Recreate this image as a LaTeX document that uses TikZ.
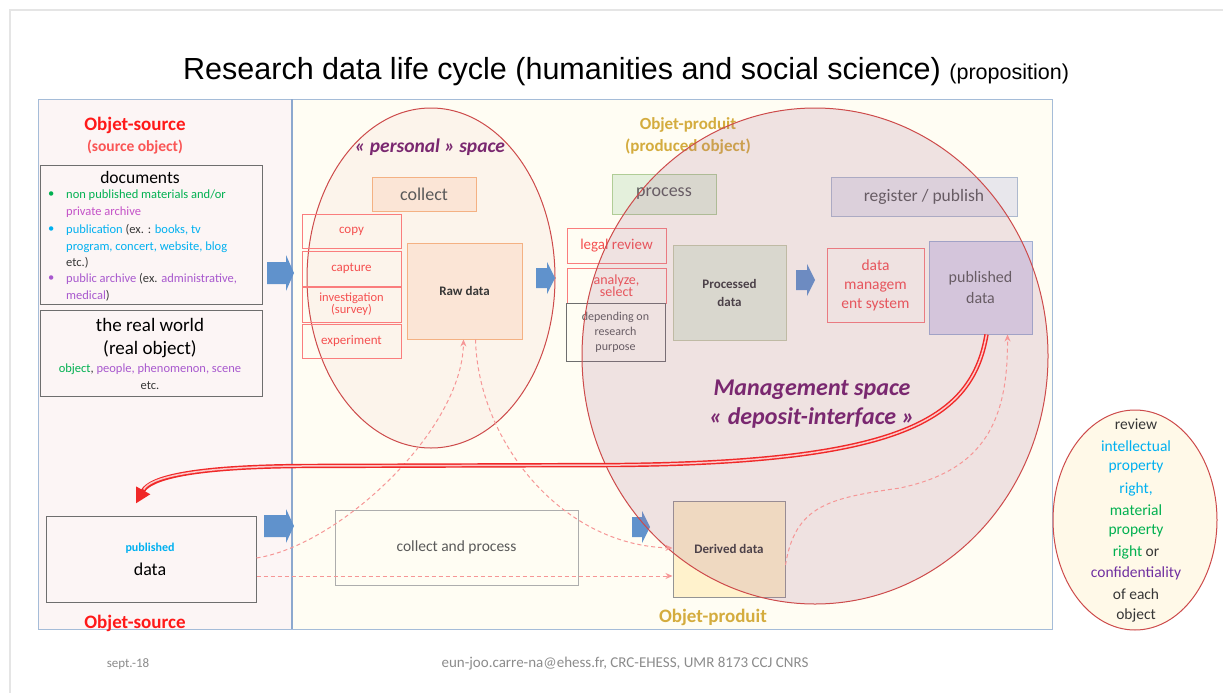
\documentclass[tikz,border=0pt]{standalone}
\usepackage{fontspec}
\setmainfont{Carlito}
\newfontfamily\arialfont{Liberation Sans}
\usetikzlibrary{arrows.meta,calc}
\definecolor{panelL}{RGB}{252,245,245}
\definecolor{panelR}{RGB}{255,253,243}
\definecolor{frameblue}{RGB}{165,188,216}
\definecolor{frameblue2}{RGB}{140,168,206}
\definecolor{arrowblue}{RGB}{96,146,204}
\definecolor{ored}{RGB}{255,25,25}
\definecolor{ored2}{RGB}{250,85,85}
\definecolor{boxred}{RGB}{250,125,125}
\definecolor{txtred}{RGB}{245,80,80}
\definecolor{ogreen}{RGB}{0,176,80}
\definecolor{oblue}{RGB}{0,176,240}
\definecolor{omag}{RGB}{196,82,200}
\definecolor{opurple}{RGB}{168,88,206}
\definecolor{cpurple}{RGB}{112,48,160}
\definecolor{plum}{RGB}{122,40,112}
\definecolor{gold}{RGB}{212,172,62}
\definecolor{peach}{RGB}{251,229,214}
\definecolor{peachline}{RGB}{244,177,131}
\definecolor{lgreen}{RGB}{228,240,220}
\definecolor{lgreenline}{RGB}{176,205,150}
\definecolor{olive}{RGB}{196,204,168}
\definecolor{greytxt}{RGB}{89,89,89}
\definecolor{darktxt}{RGB}{55,55,55}
\definecolor{boxgrey}{RGB}{110,110,110}
\definecolor{regfill}{RGB}{232,231,236}
\definecolor{regline}{RGB}{173,185,206}
\definecolor{pubfill}{RGB}{222,218,236}
\definecolor{publine}{RGB}{160,175,210}
\definecolor{derfill}{RGB}{255,242,204}
\definecolor{ellred}{RGB}{205,75,75}
\definecolor{mgfill}{RGB}{170,110,150}
\definecolor{persfill}{RGB}{200,90,100}
\definecolor{revfill}{RGB}{255,249,232}
\definecolor{dashred}{RGB}{246,150,150}
\definecolor{dblred}{RGB}{240,40,40}
\definecolor{dblin}{RGB}{252,200,200}
\definecolor{foot}{RGB}{140,140,140}
\newcommand\fsz[2]{\fontsize{#1}{#2}\selectfont}
\newcommand\blockarr[5]{\fill[arrowblue] (#1,#3-#4) -- (#2-8,#3-#4) -- (#2-8,#3-#5) -- (#2,#3) -- (#2-8,#3+#5) -- (#2-8,#3+#4) -- (#1,#3+#4) -- cycle;}
\tikzset{
  bx/.style={rectangle, inner sep=1pt, align=center},
  redbox/.style={bx, draw=boxred, line width=1pt, text=txtred},
  dasharrow/.style={draw=dashred, line width=1pt, dash pattern=on 4pt off 3pt, -{Stealth[length=7pt,width=6pt]}},
}
\newcommand\dblpath{($(pub.south)+(6,0)$) .. controls (972,420) and (900,462) .. (620,465) -- (300,466) .. controls (190,467) and (150,478) .. (arrend)}
\begin{document}
\begin{tikzpicture}[x=1pt,y=-1pt]
\useasboundingbox (0,0) rectangle (1223,693);
\fill[white] (0,0) rectangle (1223,693);
\draw[black!10, line width=1.5pt] (10,693) -- (10,10) -- (1223,10);
% panels
\fill[panelL] (38,99) rectangle (292,629);
\fill[panelR] (292,99) rectangle (1052,629);
\draw[frameblue, line width=1pt] (38,99) rectangle (1052,629);
\draw[frameblue2, line width=2.2pt] (292,99) -- (292,629);
% title
\node[anchor=base west, inner sep=0, font=\arialfont\fsz{30.5}{36}] (title) at (183,80) {Research data life cycle (humanities and social science) {\fsz{21.5}{25}(proposition)}};
% left panel
\node[font=\bfseries\fsz{19}{22}, text=ored] (os1) at (135,125) {Objet-source};
\node[font=\bfseries\fsz{15.5}{18}, text=ored2] (os2) at (135,147) {(source object)};
\node[draw=boxgrey, line width=1pt, minimum width=222pt, minimum height=139pt] (docs) at (151,235) {};
\node[font=\fsz{17.5}{20}, text=black] (doct) at (140,177) {documents};
\begin{scope}[every node/.style={anchor=west, inner sep=0, font=\fsz{12.5}{15}, text=darktxt}]
\node (b1) at (48,195) {\color{ogreen}\textbullet};
\node (l1) at (66,195) {\color{ogreen}non published materials and/or};
\node (l2) at (66,212) {\color{omag}private archive};
\node (b2) at (48,230) {\color{oblue}\textbullet};
\node (l3) at (66,230) {{\color{oblue}publication} (ex. : {\color{oblue}books, tv}};
\node (l4) at (66,247) {\color{oblue}program, concert, website, blog};
\node (l5) at (66,263) {etc.)};
\node (b3) at (48,279) {\color{opurple}\textbullet};
\node (l6) at (66,279) {{\color{opurple}public archive} (ex. {\color{opurple}administrative,}};
\node (l7) at (66,296) {{\color{opurple}medical})};
\end{scope}
\node[draw=boxgrey, line width=1pt, minimum width=222pt, minimum height=86pt] (real) at (151,353) {};
\node[font=\fsz{19}{22}, text=black] (rw1) at (150,325) {the real world};
\node[font=\fsz{19}{22}, text=black] (rw2) at (150,349) {(real object)};
\node[font=\fsz{12.5}{15}, text=darktxt] (rw3) at (150,369) {{\color{ogreen}object}, {\color{opurple}people, phenomenon, scene}};
\node[font=\fsz{12.5}{15}, text=darktxt] (rw4) at (150,386) {etc.};
\blockarr{267}{294}{273}{11}{18}
\blockarr{264}{294}{526}{11}{17}
% personal space
\draw[ellred, line width=1pt, fill=persfill, fill opacity=0.05] (431,278) ellipse [x radius=124pt, y radius=170pt];
\node[font=\bfseries\itshape\fsz{19.5}{22}, text=plum] (pers) at (430,147) {« personal » space};
\node[bx, fill=peach, draw=peachline, line width=1pt, minimum width=104pt, minimum height=34pt, font=\fsz{18}{22}, text=greytxt] (collect) at (424,194) {collect};
\node[redbox, minimum width=99pt, minimum height=34pt, font=\fsz{13}{15}] (copy) at (351.5,231) {copy};
\node[redbox, minimum width=99pt, minimum height=35pt, font=\fsz{13}{15}] (capture) at (351.5,268.5) {capture};
\node[redbox, minimum width=99pt, minimum height=35pt, font=\fsz{12.5}{12}] (invest) at (351.5,304.5) {investigation\\(survey)};
\node[redbox, minimum width=99pt, minimum height=34pt, font=\fsz{13}{15}] (exper) at (351.5,341) {experiment};
\node[bx, fill=peach, draw=peachline, line width=1pt, minimum width=115pt, minimum height=96pt, font=\bfseries\fsz{13}{15}, text=darktxt] (raw) at (464.5,291) {Raw data};
\blockarr{536}{555}{278}{10}{16}
% process
\node[font=\bfseries\fsz{17}{18}, text=gold] (op1) at (688,125) {Objet-produit};
\node[font=\bfseries\fsz{17}{18}, text=gold] (op2) at (688,147) {(produced object)};
\node[bx, fill=lgreen, draw=lgreenline, line width=1pt, minimum width=104pt, minimum height=40pt, font=\fsz{18}{22}, text=greytxt] (process) at (664,194) {process};
\node[redbox, minimum width=99pt, minimum height=35pt, font=\fsz{15}{17}] (legal) at (616.5,245.5) {legal review};
\node[redbox, minimum width=99pt, minimum height=35pt, font=\fsz{14}{12}] (analyze) at (616.5,285.5) {analyze,\\select};
\node[bx, draw=boxgrey, line width=1pt, minimum width=99pt, minimum height=58pt, font=\fsz{12}{15}, text=greytxt] (depend) at (615.5,332) {depending on\\research\\purpose};
\node[bx, fill=lgreen, draw=olive, line width=1pt, minimum width=113pt, minimum height=95pt, font=\bfseries\fsz{13}{18}, text=darktxt] (processed) at (729.5,292.5) {Processed\\data};
\blockarr{796}{815}{280}{10}{16}
% register / publish
\node[bx, fill=regfill, draw=regline, line width=1pt, minimum width=186pt, minimum height=39pt, font=\fsz{17.5}{20}, text=greytxt] (register) at (924,196.5) {register / publish};
\node[redbox, minimum width=97pt, minimum height=74pt, font=\fsz{15.5}{19}] (dms) at (875.5,285) {data\\managem\\ent system};
\node[bx, fill=pubfill, draw=publine, line width=1pt, minimum width=103pt, minimum height=93pt, font=\fsz{16}{21}, text=greytxt] (pub) at (980.5,287.5) {published\\data};
% bottom row
\node[bx, draw=boxgrey, line width=1pt, minimum width=210pt, minimum height=86pt] (pubdata) at (151,559) {};
\node[font=\bfseries\fsz{12}{14}, text=oblue] (pubt1) at (150,548) {published};
\node[font=\fsz{18}{21}, text=black] (pubt2) at (150,569) {data};
\node[font=\bfseries\fsz{19}{22}, text=ored] (os3) at (135,623) {Objet-source};
\node[bx, fill=panelR, draw=black!32, line width=1pt, minimum width=243pt, minimum height=75pt, font=\fsz{15.5}{18}, text=greytxt] (cap) at (456.5,547.5) {collect and process};
\node[bx, fill=derfill, draw=black!42, line width=1pt, minimum width=112pt, minimum height=96pt, font=\bfseries\fsz{13}{15}, text=darktxt] (derived) at (729,549) {Derived data};
\blockarr{632}{650}{527}{10}{16}
\node[font=\bfseries\fsz{19}{22}, text=gold] (op3) at (713,617) {Objet-produit};
% management space
\draw[ellred, line width=1pt, fill=mgfill, fill opacity=0.19] (815,356) ellipse [x radius=233pt, y radius=248pt];
\node[font=\bfseries\itshape\fsz{24}{27}, text=plum] (mg1) at (812,390) {Management space};
\node[font=\bfseries\itshape\fsz{24}{27}, text=plum] (mg2) at (812,418) {« deposit-interface »};
% review ellipse
\draw[ellred, line width=1pt, fill=revfill] (1135,520) ellipse [x radius=82pt, y radius=110pt];
\begin{scope}[every node/.style={font=\fsz{15.5}{18}, inner sep=0, text=darktxt}]
\node (r1) at (1136,424) {review};
\node (r2) at (1136,446) {\color{oblue}intellectual};
\node (r3) at (1136,467) {\color{oblue}property};
\node (r4) at (1136,489) {\color{oblue}right,};
\node (r5) at (1136,510) {\color{ogreen}material};
\node (r6) at (1136,531) {\color{ogreen}property};
\node (r7) at (1136,552) {{\color{ogreen}right} or};
\node (r8) at (1136,573) {\color{cpurple}confidentiality};
\node (r9) at (1136,594) {of each};
\node (r10) at (1136,615) {object};
\end{scope}
% dashed connectors
\draw[dasharrow] ($(pubdata.east)+(0,-1)$) .. controls (340,545) and (462,430) .. ($(raw.south)+(-1,0)$);
\draw[dasharrow] ($(raw.south)+(11,0)$) .. controls (478,440) and (560,545) .. ($(derived.west)+(0,-1)$);
\draw[dasharrow] ($(pubdata.east)+(0,17)$) -- ($(derived.west)+(0,27)$);
\draw[dasharrow] ($(derived.east)+(0,16)$) .. controls (795,505) and (830,498) .. (900,488) .. controls (985,470) and (1008,420) .. ($(pub.south)+(27,0)$);
% red double arrow
\coordinate (arrend) at ($(pubdata.north)+(-15,-12)$);
\draw[dblred, line width=4.4pt, -{Triangle[length=15pt,width=15pt]}] \dblpath;
\draw[dblin, line width=1.5pt, shorten >=16pt] \dblpath;
% footer
\node[font=\fsz{13}{15}, text=foot] (date) at (128,664) {sept.-18};
\node[font=\fsz{15}{17}, text=foot] (email) at (625,664) {eun-joo.carre-na@ehess.fr, CRC-EHESS, UMR 8173 CCJ CNRS};
\end{tikzpicture}
\end{document}
